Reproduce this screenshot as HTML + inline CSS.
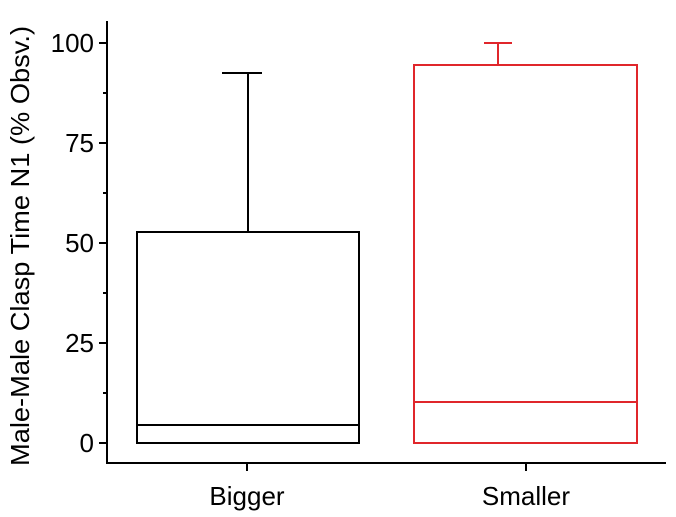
<!DOCTYPE html>
<html><head><style>body{margin:0;background:#fff}svg{display:block}</style></head><body>
<svg width="676" height="517" xmlns="http://www.w3.org/2000/svg" font-family="Liberation Sans, Arial, sans-serif">
<rect width="676" height="517" fill="#fff"/>
<g stroke="#000" stroke-width="2" fill="none">
<line x1="107" y1="21" x2="107" y2="464"/>
<line x1="106" y1="463" x2="666" y2="463"/>
<line x1="99" y1="43" x2="107" y2="43"/>
<line x1="99" y1="143" x2="107" y2="143"/>
<line x1="99" y1="243" x2="107" y2="243"/>
<line x1="99" y1="343" x2="107" y2="343"/>
<line x1="99" y1="443" x2="107" y2="443"/>
<line x1="103" y1="93" x2="107" y2="93"/>
<line x1="103" y1="193" x2="107" y2="193"/>
<line x1="103" y1="293" x2="107" y2="293"/>
<line x1="103" y1="393" x2="107" y2="393"/>
<line x1="247" y1="463" x2="247" y2="471"/>
<line x1="526" y1="463" x2="526" y2="471"/>
</g>
<g stroke="#000" stroke-width="2" fill="none">
<rect x="137" y="232" width="222" height="211"/>
<line x1="137" y1="425" x2="359" y2="425"/>
<line x1="248" y1="232" x2="248" y2="73"/>
<line x1="222" y1="73" x2="262" y2="73"/>
</g>
<g stroke="#e0262b" stroke-width="2" fill="none">
<rect x="414" y="65" width="223" height="378"/>
<line x1="414" y1="402" x2="637" y2="402"/>
<line x1="498" y1="65" x2="498" y2="43"/>
<line x1="484" y1="43" x2="512" y2="43"/>
</g>
<g font-size="26" fill="#000" text-anchor="end">
<text x="94" y="52">100</text>
<text x="94" y="152">75</text>
<text x="94" y="252">50</text>
<text x="94" y="352">25</text>
<text x="94" y="452">0</text>
</g>
<g font-size="26" fill="#000" text-anchor="middle">
<text x="247" y="505">Bigger</text>
<text x="526" y="505">Smaller</text>
<text transform="translate(29,246) rotate(-90)" textLength="440" lengthAdjust="spacingAndGlyphs">Male-Male Clasp Time N1 (% Obsv.)</text>
</g>
</svg>
</body></html>
